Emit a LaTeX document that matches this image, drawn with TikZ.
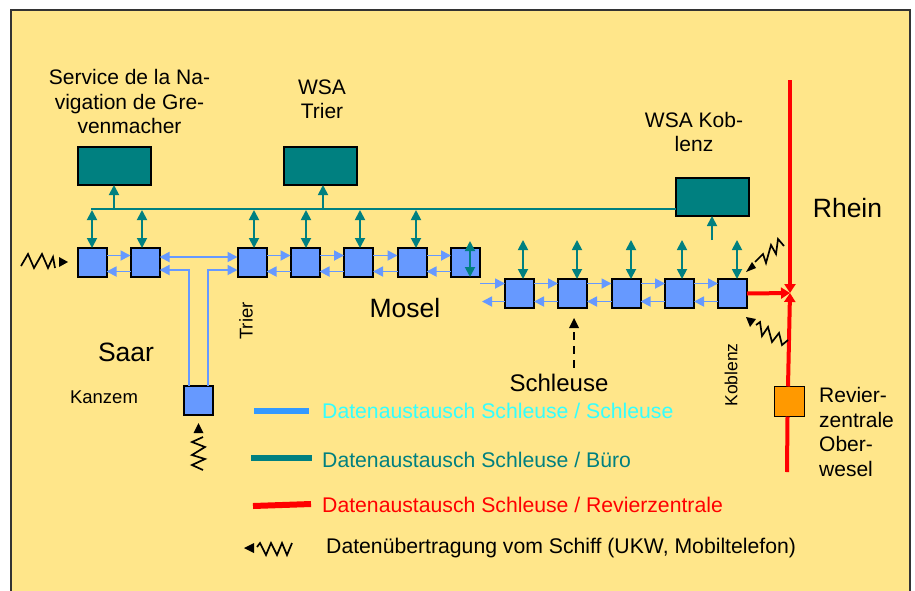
\documentclass[tikz,border=0pt]{standalone}
\usepackage{fontspec}
\setmainfont{Liberation Sans}
\usetikzlibrary{arrows.meta}
\definecolor{bgy}{HTML}{FFE68A}
\definecolor{lockb}{HTML}{6699FF}
\definecolor{tealc}{HTML}{008080}
\definecolor{orangec}{HTML}{FF9900}
\definecolor{cyanc}{HTML}{33FFFF}
\definecolor{legb}{HTML}{3399FF}
\tikzset{
 x=1pt,y=-1pt,
 lock/.style={draw=black,line width=2pt,fill=lockb,minimum width=29pt,minimum height=29pt,inner sep=0pt,outer sep=0pt},
 office/.style={draw=black,line width=2pt,fill=tealc,minimum width=73pt,minimum height=38pt,inner sep=0pt,outer sep=0pt},
 bluearrow/.style={draw=lockb,line width=1.8pt,-{Triangle[length=10pt,width=10pt]}},
 bluedouble/.style={draw=lockb,line width=1.8pt,{Triangle[length=10pt,width=10pt]}-{Triangle[length=10pt,width=10pt]}},
 tealdouble/.style={draw=tealc,line width=1.8pt,{Triangle[length=10pt,width=10pt]}-{Triangle[length=10pt,width=10pt]}},
 tealarrow/.style={draw=tealc,line width=1.8pt,-{Triangle[length=10pt,width=10pt]}},
 redline/.style={draw=red,line width=4pt},
 redtip/.style={-{Triangle[length=9pt,width=11pt]}},
 ship/.style={draw=black,line width=1.7pt,line join=miter},
 shiptip/.style={fill=black},
 txt/.style={font=\fontsize{21}{24.5}\selectfont,inner sep=0pt,align=center},
 bigtxt/.style={font=\fontsize{26.5}{30}\selectfont,inner sep=0pt},
 smalltxt/.style={font=\fontsize{18.5}{22}\selectfont,inner sep=0pt},
 legtxt/.style={font=\fontsize{21.2}{24}\selectfont,inner sep=0pt,anchor=west},
}
\begin{document}
\begin{tikzpicture}
\useasboundingbox (0,0) rectangle (915,590);
\fill[white] (0,0) rectangle (915,590);
\begin{scope}
\clip (0,0) rectangle (915,590);
\draw[fill=bgy,draw=black!80,line width=2pt] (11,10) rectangle (910,600);
\end{scope}
\coordinate (rtop) at (790,80);
\coordinate (junc) at (790,293);
\coordinate (rbot) at (787,472);
\node[draw=black,line width=1.6pt,fill=orangec,minimum width=30pt,minimum height=30pt,inner sep=0pt,outer sep=0pt] (rz) at (789.5,401.5) {};
\node[office] (o1) at (114,166) {};
\node[office] (o2) at (320.5,166) {};
\node[office] (o3) at (712.5,197) {};
\node[lock] (a1) at (92,262.5) {};
\node[lock] (a2) at (145,262.5) {};
\node[lock] (b1) at (252,262.5) {};
\node[lock] (b2) at (305,262.5) {};
\node[lock] (b3) at (358.5,262.5) {};
\node[lock] (b4) at (412,262.5) {};
\node[lock] (b5) at (465.5,262.5) {};
\node[lock] (c1) at (519.5,293.5) {};
\node[lock] (c2) at (572.5,293.5) {};
\node[lock] (c3) at (626,293.5) {};
\node[lock] (c4) at (679.5,293.5) {};
\node[lock] (c5) at (732.5,293.5) {};
\node[lock] (k) at (198.5,400.5) {};
% bus
\draw[tealc,line width=1.8pt] (91,209) -- (o3.west|-0,209);
\draw[tealarrow] (114,209) -- (114,0|-o1.south);
\draw[tealarrow] (323,209) -- (323,0|-o2.south);
\draw[tealarrow] (712,240) -- (712,0|-o3.south);
\foreach \x/\n in {92/a1,142/a2,254/b1,306/b2,360/b3,416/b4}{\draw[tealdouble] (\x,210) -- (\x,0|-\n.north);}
\draw[tealdouble] (470,241) -- (470,277);
\foreach \x/\n in {523/c1,577/c2,631/c3,682/c4,737/c5}{\draw[tealdouble] (\x,240) -- (\x,0|-\n.north);}
% blue arrows
\foreach \lft/\rgt in {a1/a2,b1/b2,b2/b3,b3/b4,b4/b5}{
 \draw[bluearrow] ([yshift=-9pt]\rgt.west) -- ([yshift=-9pt]\lft.east);
 \draw[bluearrow] ([yshift=7pt]\lft.east) -- ([yshift=7pt]\rgt.west);
}
\foreach \lft/\rgt in {c1/c2,c2/c3,c3/c4,c4/c5}{
 \draw[bluearrow] ([yshift=-8pt]\rgt.west) -- ([yshift=-8pt]\lft.east);
 \draw[bluearrow] ([yshift=10pt]\lft.east) -- ([yshift=10pt]\rgt.west);
}
\draw[bluearrow] (480,283.5) -- (c1.west|-0,283.5);
\draw[bluearrow] (c1.west|-0,301.5) -- (482,301.5);
\draw[bluedouble] ([yshift=5.5pt]a2.east) -- ([yshift=5.5pt]b1.west);
\draw[lockb,line width=1.8pt,{Triangle[length=10pt,width=10pt]}-] (a2.east|-0,270) -- (189,270) -- (189,0|-k.north);
\draw[lockb,line width=1.8pt,-{Triangle[length=10pt,width=10pt]}] (208,0|-k.north) -- (208,270) -- (b1.west|-0,270);
% red
\draw[redline,redtip] (rtop) -- (junc);
\draw[redline,redtip] (c5.east|-0,293.5) -- (junc);
\draw[redline,redtip] (rz.north-|788,0) -- (junc);
\draw[redline] (rz.south-|787.5,0) -- (rbot);
% ship signals
\draw[ship] (21,266) -- (28,254) -- (34,268) -- (42,254) -- (48,268) -- (53,257) -- (55,268);
\fill[shiptip] (59,257) -- (68,262) -- (59,267) -- cycle;
\draw[ship] (203,437) -- (192,442) -- (205,447) -- (192,455) -- (205,459) -- (192,465) -- (203,470);
\fill[shiptip] (198.5,423) -- (203.5,433) -- (193.5,433) -- cycle;
\draw[ship] (755,262) -- (763,254) -- (766,263) -- (771,245) -- (776,254) -- (778,239) -- (784,246);
\fill[shiptip] (746,272) -- (752,262) -- (756,268) -- cycle;
\draw[ship] (756,325) -- (760,322) -- (762,336) -- (768,327) -- (772,342) -- (779,333) -- (782,345) -- (788,340);
\fill[shiptip] (746,317) -- (756,319) -- (750,327) -- cycle;
\draw[ship] (257,547) -- (260,543) -- (266,555) -- (271,543) -- (277,555) -- (282,543) -- (287,555) -- (292,543);
\fill[shiptip] (244,548) -- (254,543) -- (254,553) -- cycle;
% dashed
\draw[black,line width=1.5pt,dash pattern=on 8pt off 6pt] (574,332) -- (574,368);
\fill[shiptip] (574,318) -- (579,328) -- (569,328) -- cycle;
% labels
\node[txt] (t1) at (129.5,101.5) {Service de la Na-\\vigation de Gre-\\venmacher};
\node[txt] (t2) at (322,99.5) {WSA\\Trier};
\node[txt] (t3) at (694,132) {WSA Kob-\\lenz};
\node[bigtxt] (t4) at (847.5,208) {Rhein};
\node[bigtxt] (t5) at (405,308) {Mosel};
\node[bigtxt] (t6) at (126,352) {Saar};
\node[txt,font=\fontsize{24}{28}\selectfont] (t7) at (559,383) {Schleuse};
\node[smalltxt] (t8) at (104,397) {Kanzem};
\node[smalltxt,rotate=90] (t9) at (246,321) {Trier};
\node[smalltxt,font=\fontsize{17.5}{21}\selectfont,rotate=90] (t10) at (731,375) {Koblenz};
\node[txt,align=left,anchor=west] (t11) at (819,432) {Revier-\\zentrale\\Ober-\\wesel};
% legend
\draw[legb,line width=6pt] (254,411) -- (309,411);
\draw[tealc,line width=6pt] (251,458) -- (312,458);
\draw[red,line width=6pt] (253,506) -- (311,504);
\node[legtxt,text=cyanc] (l1) at (322,411) {Datenaustausch Schleuse / Schleuse};
\node[legtxt,text=tealc] (l2) at (322,460) {Datenaustausch Schleuse / Büro};
\node[legtxt,text=red] (l3) at (322,505) {Datenaustausch Schleuse / Revierzentrale};
\node[legtxt] (l4) at (326,548) {Datenübertragung vom Schiff (UKW, Mobiltelefon)};
\end{tikzpicture}
\end{document}
